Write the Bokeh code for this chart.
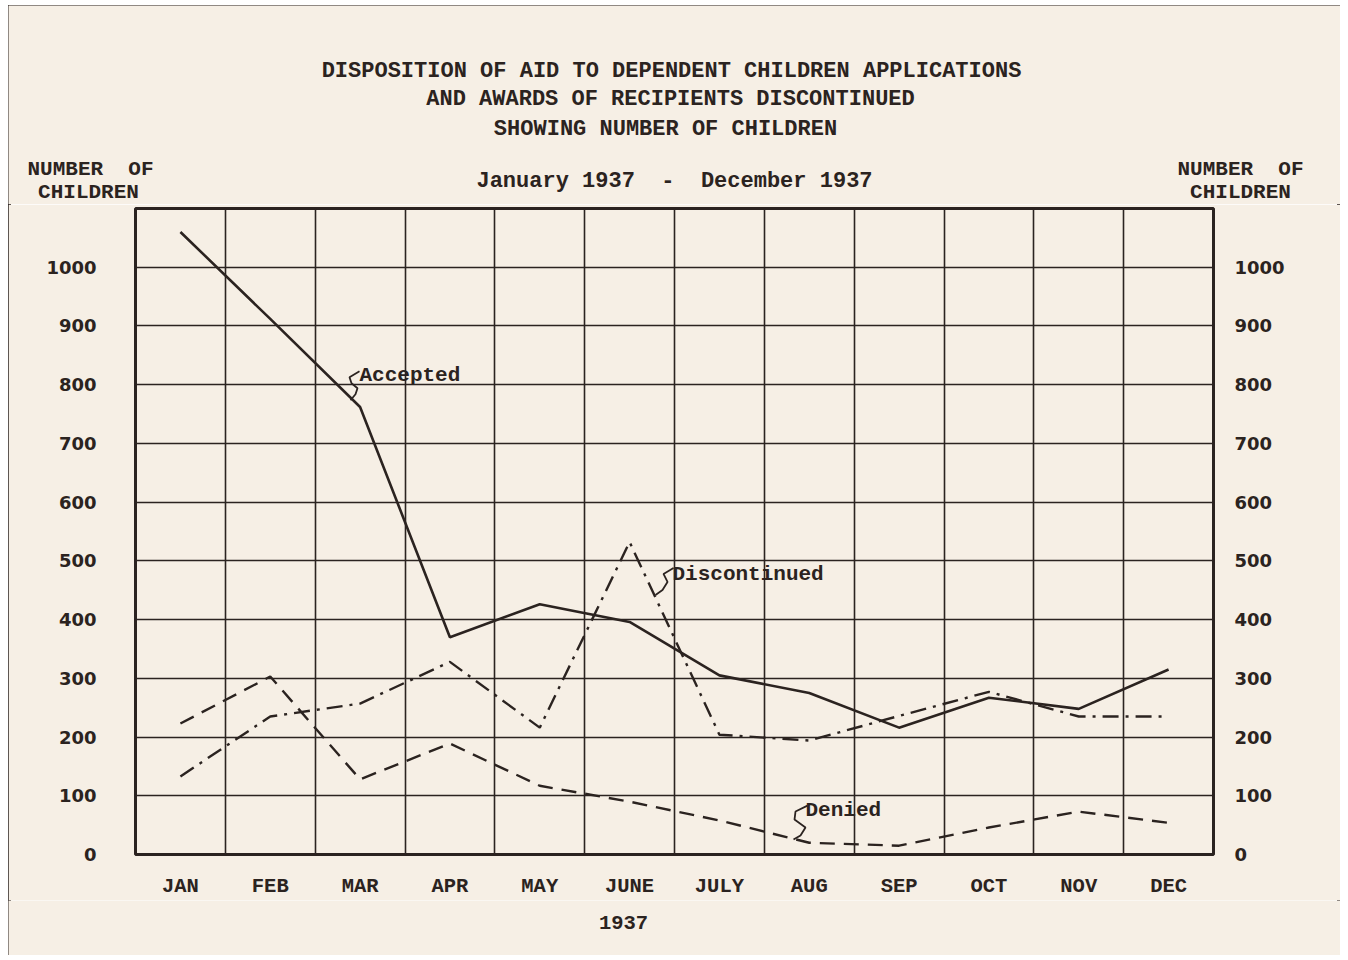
from bokeh.plotting import figure
from bokeh.layouts import column
from bokeh.models import Range1d, LinearAxis, FixedTicker, Label
from bokeh.core.properties import value
from bokeh.embed import file_html
from bokeh.resources import INLINE

months = ["JAN", "FEB", "MAR", "APR", "MAY", "JUNE", "JULY", "AUG", "SEP", "OCT", "NOV", "DEC"]
accepted = [1060, 912, 762, 370, 426, 396, 305, 275, 216, 267, 248, 315]
discontinued = [133, 235, 257, 328, 216, 532, 204, 194, 236, 277, 235, 235]
denied = [223, 303, 128, 189, 117, 90, 58, 20, 15, 46, 73, 54]
y_ticks = [0, 100, 200, 300, 400, 500, 600, 700, 800, 900, 1000]

INK = "#2b2320"
BG = "#f6efe5"
MONO = "Liberation Mono"
NB = "\u00a0"

OX, OY = 8, 5            # page offset of the whole layout
W = 1332
HEAD_H, MAIN_H, FOOT_H = 199, 696, 55
FL, FW, FH = 135 - OX, 1078, 647
MAIN_TOP = 4
x = list(range(1, len(months) + 1))


def text_panel(h):
    f = figure(width=W, height=h, output_backend="svg", toolbar_location=None,
               x_range=Range1d(0, W), y_range=Range1d(h, 0),
               x_axis_location=None, y_axis_location=None,
               min_border=0, min_border_left=0, min_border_right=0,
               min_border_top=0, min_border_bottom=0, frame_align=False,
               background_fill_color=BG, border_fill_color=BG)
    f.grid.visible = False
    f.outline_line_color = None
    return f


def put(f, top, items, size):
    # items: (page_x, page_y, text)
    f.text(x=[a - OX for a, b, t in items], y=[b - top for a, b, t in items],
           text=[t for a, b, t in items], text_font=value(MONO), text_font_style="bold",
           text_font_size=size, text_color=INK, text_align="center", text_baseline="middle")


# ---------- header ----------
head = text_panel(HEAD_H)
put(head, OY, [(671, 71, "DISPOSITION OF AID TO DEPENDENT CHILDREN APPLICATIONS"),
               (670, 99, "AND AWARDS OF RECIPIENTS DISCONTINUED"),
               (665, 129, "SHOWING NUMBER OF CHILDREN"),
               (674, 181, f"January 1937{NB}{NB}-{NB}{NB}December 1937")], "22px")
put(head, OY, [(90, 169, f"NUMBER{NB}{NB}OF"), (88, 192, "CHILDREN"),
               (1240, 169, f"NUMBER{NB}{NB}OF"), (1240, 192, "CHILDREN")], "21px")

# ---------- main chart ----------
p = figure(width=W, height=MAIN_H, output_backend="svg", toolbar_location=None,
           x_range=Range1d(0.5, 12.5), y_range=Range1d(0, 1100),
           min_border_left=FL, min_border_right=W - FL - FW,
           min_border_top=MAIN_TOP, min_border_bottom=MAIN_H - MAIN_TOP - FH,
           frame_align=False,
           background_fill_color=BG, border_fill_color=BG)

p.outline_line_color = INK
p.outline_line_width = 3

p.xgrid.ticker = FixedTicker(ticks=[i + 0.5 for i in range(13)])
p.ygrid.ticker = FixedTicker(ticks=list(range(0, 1101, 100)))
for g in (p.xgrid, p.ygrid):
    g.grid_line_color = INK
    g.grid_line_width = 1.6
    g.grid_line_alpha = 1.0

xa = p.xaxis[0]
xa.ticker = FixedTicker(ticks=x)
xa.major_label_overrides = {i: m for i, m in zip(x, months)}
xa.major_label_text_font = MONO
xa.major_label_text_font_style = "bold"
xa.major_label_text_font_size = "20.5px"
xa.major_label_text_color = INK
xa.major_label_standoff = 14
xa.axis_line_color = None
xa.major_tick_line_color = None
xa.minor_tick_line_color = None

ya = p.yaxis[0]
ra = LinearAxis()
p.add_layout(ra, "right")
for ax, so in ((ya, 33), (ra, 15)):
    ax.ticker = FixedTicker(ticks=y_ticks)
    ax.major_label_text_font = "DejaVu Sans"
    ax.major_label_text_font_style = "bold"
    ax.major_label_text_font_size = "18px"
    ax.major_label_text_color = INK
    ax.major_label_standoff = so
    ax.axis_line_color = None
    ax.major_tick_line_color = None
    ax.minor_tick_line_color = None

p.line(x, accepted, line_color=INK, line_width=2.6)
p.line(x, discontinued, line_color=INK, line_width=2.4, line_dash="16 7 3 7")
p.line(x, denied, line_color=INK, line_width=2.4, line_dash="15 9")


def dx(px):
    return 0.5 + (px - 135) / (FW / 12)


def dy(py):
    return (855 - py) / (FH / 1100)


for t, px, py in (("Accepted", 359, 375), ("Discontinued", 672, 575), ("Denied", 805, 811)):
    p.add_layout(Label(x=dx(px), y=dy(py), text=t, text_font=MONO, text_font_style="bold",
                       text_font_size="21px", text_color=INK, text_align="left",
                       text_baseline="middle"))

squiggles = [
    [(359, 371), (349, 377), (351, 383), (357, 388), (355, 394), (350, 400)],
    [(673, 568), (663, 574), (667, 582), (662, 590), (655, 595)],
    [(807, 806), (795, 812), (794, 820), (805, 828), (800, 836), (793, 840)],
]
for s in squiggles:
    p.line([dx(a) for a, b in s], [dy(b) for a, b in s], line_color=INK, line_width=1.8)

# ---------- footer ----------
foot = text_panel(FOOT_H)
foot_top = OY + HEAD_H + MAIN_H
put(foot, foot_top, [(623, 922, "1937")], "20.5px")

layout = column(head, p, foot, spacing=0,
                styles={"margin-left": f"{OX}px", "margin-top": f"{OY}px",
                        "outline": f"3px solid {INK}", "outline-offset": "-3px"})

open("out.html", "w").write(file_html(layout, INLINE))
